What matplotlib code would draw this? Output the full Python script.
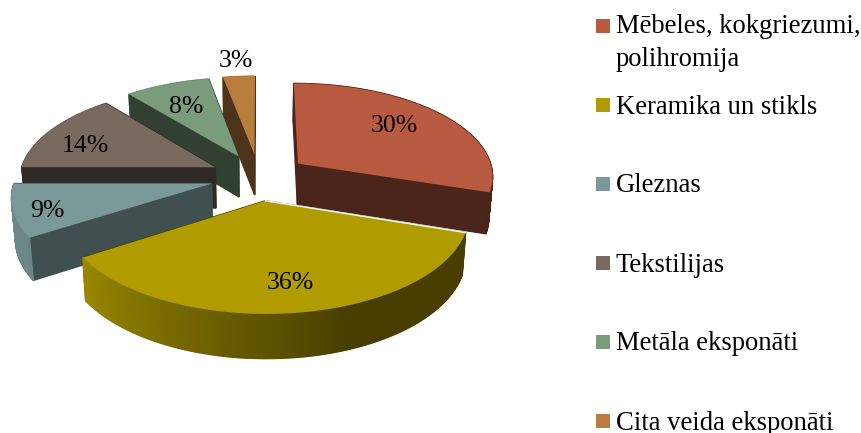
import numpy as np
import matplotlib
matplotlib.use('Agg')
import matplotlib.pyplot as plt
from matplotlib.patches import Polygon, Rectangle

plt.rcParams['font.family'] = ['Liberation Serif', 'DejaVu Serif']

# data
names = ['Mēbeles, kokgriezumi,\npolihromija', 'Keramika un stikls', 'Gleznas',
         'Tekstilijas', 'Metāla eksponāti', 'Cita veida eksponāti']
values = [30, 36, 9, 14, 8, 3]
colors = ['#B85A3F', '#B19C00', '#7B9999', '#796A60', '#7B9C7B', '#B97D3C']
cut_shade = [0.41, 0.41, 0.52, 0.39, 0.41, 0.41]

# layout, in pixels of the picture
label_pos = [(394, 126), (290, 283), (47, 211), (85, 146), (186, 107), (236, 61)]
legend_y = [43, 107, 186, 265, 344, 423]

CX, CY = 259, 177     # centre of the pie before exploding
SX, SY = 196, 93      # radius on screen
D = 8.2               # distance of the eye, gives the perspective
EXPLODE = 0.25
DEPTH = 41
SHRINK = 0.0004       # lower edge of the pie is a bit narrower


def project(x, y, z=0):
    # y is towards the viewer, z is downwards depth in pixels
    s = D / (D - y)
    return CX + SX * x * s * (1 - SHRINK * z), CY + SY * y * s + z * (1 + (s - 1) * 0.5)


def shade(color, f):
    rgb = np.array(matplotlib.colors.to_rgb(color))
    return tuple(rgb * f)


def wall_factor(ang):
    # outer wall gets darker towards the right
    return np.interp(ang, [158, 238, 270], [0.40, 0.88, 0.90])


fig = plt.figure(figsize=(8.62, 4.33), dpi=100)
ax = fig.add_axes([0, 0, 1, 1])
ax.set_xlim(0, 862)
ax.set_ylim(433, 0)
ax.axis('off')

edges = np.cumsum([0] + values) * 3.6

# back slices first, each one covers the one before it
order = [5, 4, 3, 2, 0, 1]
for i in order:
    a0, a1 = edges[i], edges[i + 1]
    mid = np.radians((a0 + a1) / 2)
    ox, oy = EXPLODE * np.sin(mid), -EXPLODE * np.cos(mid)
    angs = np.linspace(a0, a1, int(a1 - a0) * 2 + 2)
    rim_x = ox + np.sin(np.radians(angs))
    rim_y = oy - np.cos(np.radians(angs))

    top = [project(ox, oy)] + [project(x, y) for x, y in zip(rim_x, rim_y)]
    faces = []
    # the two cut faces
    for k in (0, -1):
        quad = [project(ox, oy), project(rim_x[k], rim_y[k]),
                project(rim_x[k], rim_y[k], DEPTH), project(ox, oy, DEPTH)]
        faces.append(((oy + rim_y[k]) / 2, quad, shade(colors[i], cut_shade[i])))
    # outer wall
    for k in range(len(angs) - 1):
        quad = [project(rim_x[k], rim_y[k]), project(rim_x[k + 1], rim_y[k + 1]),
                project(rim_x[k + 1], rim_y[k + 1], DEPTH), project(rim_x[k], rim_y[k], DEPTH)]
        faces.append(((rim_y[k] + rim_y[k + 1]) / 2, quad, shade(colors[i], wall_factor(angs[k]))))

    faces.sort(key=lambda f: f[0])
    for _, quad, col in faces:
        ax.add_patch(Polygon(quad, closed=True, facecolor=col, edgecolor=col, linewidth=1.0))
    ax.add_patch(Polygon(top, closed=True, facecolor=colors[i], edgecolor='none'))
    if i == 1:
        # thin light line along the back edge of the big slice
        p0, p1 = project(ox, oy), project(rim_x[0], rim_y[0])
        ax.plot([p0[0], p1[0]], [p0[1], p1[1]], color='white', lw=1.0)

for v, (x, y) in zip(values, label_pos):
    ax.text(x, y, '%d%%' % v, fontsize=18.5, color='black', ha='center', va='center')

for name, col, y in zip(names, colors, legend_y):
    lines = name.count('\n')
    my = y - 2 - 15.5 * lines if lines else y - 2
    ax.add_patch(Rectangle((596, my - 7), 14, 14, facecolor=col, edgecolor='none'))
    ax.text(616, y, name, fontsize=19.2, color='black', ha='left', va='center', linespacing=1.38)

fig.savefig('out.png', dpi=100)
